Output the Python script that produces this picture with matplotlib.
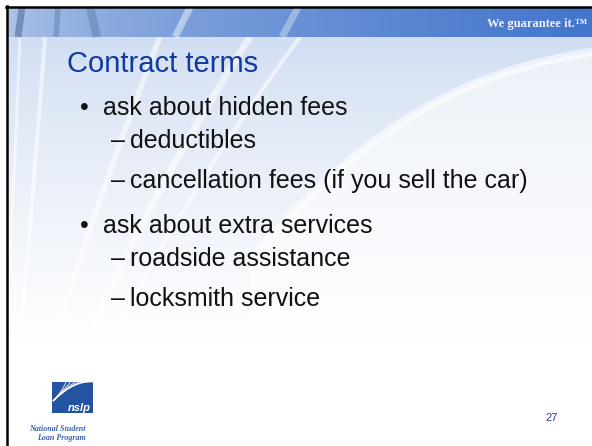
import numpy as np
import matplotlib.pyplot as plt
from matplotlib.patches import Rectangle, PathPatch
from matplotlib.path import Path

# slide content
title = 'Contract terms'
tagline = 'We guarantee it.\u2122'
levels = [1, 2, 2, 1, 2, 2]
items = ['ask about hidden fees',
         'deductibles',
         'cancellation fees (if you sell the car)',
         'ask about extra services',
         'roadside assistance',
         'locksmith service']
page_no = '27'
logo_word = 'nslp'
logo_lines = ['National Student', 'Loan Program']

W, H = 592, 446
fig = plt.figure(figsize=(W / 100, H / 100), dpi=100)
ax = fig.add_axes([0, 0, 1, 1])
ax.set_xlim(0, W)
ax.set_ylim(H, 0)
ax.axis('off')

TOP, BAND = 7.5, 37

# body background: pale blue at top fading to white lower down
yy, xx = np.mgrid[0:H, 0:W]
t = np.clip((yy - BAND) / 300.0, 0, 1) ** 0.8
top_col = np.array([0.82, 0.87, 0.95])
body = np.ones((H, W, 3)) * t[..., None] + top_col * (1 - t[..., None])
ax.imshow(body, extent=[7, W, H, TOP], aspect='auto', zorder=0)

# white swoosh from the middle up to the right edge
sw = Path([(250, 260), (380, 110), (480, 70), (592, 52), (592, 446), (250, 446), (250, 260)],
          [Path.MOVETO, Path.CURVE4, Path.CURVE4, Path.CURVE4, Path.LINETO, Path.LINETO,
           Path.CLOSEPOLY])
ax.add_patch(PathPatch(sw, fc='white', ec='none', alpha=0.55, zorder=1))
edge = Path([(250, 260), (380, 110), (480, 70), (592, 52)],
            [Path.MOVETO, Path.CURVE4, Path.CURVE4, Path.CURVE4])
ax.add_patch(PathPatch(edge, fc='none', ec='white', lw=6, alpha=0.6, zorder=1))

# faint fan of streaks on the left
for xb, xm, xt, lw in [(10, 30, 45, 3), (25, 80, 160, 4), (45, 120, 250, 5),
                       (60, 150, 300, 3), (0, 12, 20, 2)]:
    p = Path([(xb, H), (xm, 240), (xt, BAND)], [Path.MOVETO, Path.CURVE3, Path.CURVE3])
    ax.add_patch(PathPatch(p, fc='none', ec='white', lw=lw, alpha=0.55, zorder=1))

# header band
band = np.zeros((30, W, 3))
left_c = np.array([0.70, 0.78, 0.91])
right_c = np.array([0.26, 0.46, 0.80])
for i in range(W):
    f = min(1.0, (i / W) ** 0.6)
    band[:, i, :] = left_c * (1 - f) + right_c * f
ax.imshow(band, extent=[7, W, BAND, TOP], aspect='auto', zorder=2)
for x0, x1, c, a, w in [(18, 22, '#4f6f9f', 0.6, 5), (56, 58, '#5a7aaa', 0.45, 4),
                        (97, 90, '#5a7aaa', 0.45, 6), (175, 190, 'white', 0.45, 5),
                        (282, 298, 'white', 0.35, 5)]:
    ax.plot([x0, x1], [BAND, TOP], color=c, lw=w, alpha=a, zorder=3,
            solid_capstyle='butt')

# black frame on top and left
ax.plot([6, W], [6.8, 6.8], color='black', lw=1.8, zorder=5)
ax.plot([6.8, 6.8], [6, H], color='black', lw=1.8, zorder=5)

ax.text(587, 27, tagline, color='#eef2fa', fontsize=9, fontweight='bold',
        family='Liberation Serif', ha='right', va='baseline', zorder=6)
ax.text(67, 72, title, color='#123a9c', fontsize=21, family='Liberation Sans',
        ha='left', va='baseline', zorder=6)

y = 115
prev = None
for lev, txt in zip(levels, items):
    if prev is not None:
        if lev == 2 and prev == 1:
            y += 33
        elif lev == 2:
            y += 40
        else:
            y += 45
    if lev == 1:
        ax.text(80, y, '\u2022', color='#111111', fontsize=18, family='Liberation Sans',
                ha='left', va='baseline', zorder=6)
        ax.text(103, y, txt, color='#111111', fontsize=18, family='Liberation Sans',
                ha='left', va='baseline', zorder=6)
    else:
        ax.text(111, y, '\u2013', color='#111111', fontsize=18, family='Liberation Sans',
                ha='left', va='baseline', zorder=6)
        ax.text(130, y, txt, color='#111111', fontsize=18, family='Liberation Sans',
                ha='left', va='baseline', zorder=6)
    prev = lev

ax.text(545, 421, page_no, color='#2a35b0', fontsize=8, family='Liberation Sans',
        ha='left', va='baseline', zorder=6)

# logo
ax.add_patch(Rectangle((52, 382), 41, 31, fc='#2553a3', ec='none', zorder=6))
for k in range(7):
    p = Path([(53, 401), (62 + 2 * k, 392 - 2 * k), (66 + 4.5 * k, 382)],
             [Path.MOVETO, Path.CURVE3, Path.CURVE3])
    ax.add_patch(PathPatch(p, fc='none', ec='white', lw=0.8, alpha=0.75, zorder=7))
ax.text(91, 411, logo_word, color='white', fontsize=8, fontweight='bold', style='italic',
        family='Liberation Sans', ha='right', va='baseline', zorder=8)
ax.text(86, 431, logo_lines[0], color='#3a62b4', fontsize=5.8, fontweight='bold',
        style='italic', family='Liberation Serif', ha='right', va='baseline', zorder=6)
ax.text(86, 440, logo_lines[1], color='#3a62b4', fontsize=5.8, fontweight='bold',
        style='italic', family='Liberation Serif', ha='right', va='baseline', zorder=6)

fig.savefig('out.png', dpi=100)
